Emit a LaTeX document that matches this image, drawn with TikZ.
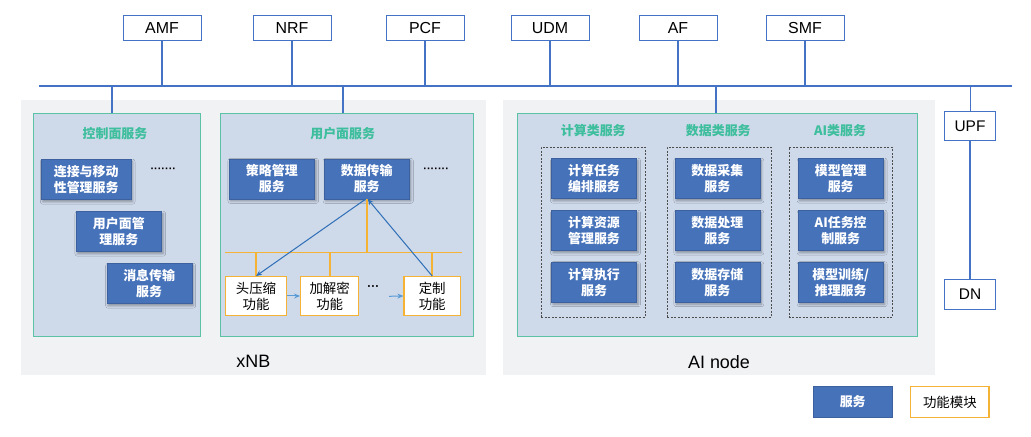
\documentclass[tikz,border=0pt]{standalone}
\usepackage{fontspec}
\setmainfont{Liberation Sans}
\newfontfamily\cjk{Noto Sans CJK SC}
\usepackage{tikz}
\usetikzlibrary{arrows.meta,positioning,shadows.blur}

\definecolor{nfblue}{HTML}{4472C4}
\definecolor{svcblue}{HTML}{4672BA}
\definecolor{sitegray}{HTML}{F1F2F4}
\definecolor{planefill}{HTML}{CED9EA}
\definecolor{planeedge}{HTML}{5CC2A6}
\definecolor{titleteal}{HTML}{3DBE9C}
\definecolor{fnorange}{HTML}{F5B335}
\definecolor{flowblue}{HTML}{5B9BD5}
\definecolor{linkblue}{HTML}{2E6FB7}

\begin{document}
\begin{tikzpicture}[x=1bp, y=-1bp,
  nf/.style={draw=nfblue, line width=1bp, fill=white, minimum width=78bp, minimum height=24.6bp, inner sep=1bp, font=\fontsize{16}{18}\selectfont},
  bus/.style={draw=nfblue, line width=1.8bp},
  site/.style={fill=sitegray, draw=none, minimum height=275bp},
  plane/.style={draw=planeedge, line width=1bp, fill=planefill, minimum height=222.7bp},
  ttl/.style={text=titleteal, font=\cjk\bfseries\fontsize{13}{15}\selectfont},
  svcbase/.style={fill=svcblue, draw=svcblue!85!black, text=white, align=center, minimum width=85bp, minimum height=40bp, inner sep=1bp, font=\cjk\bfseries\fontsize{13}{16.3}\selectfont},
  svc/.style={svcbase, blur shadow={shadow xshift=1.5bp, shadow yshift=-2bp, shadow blur radius=2.5bp, shadow opacity=35}},
  grp/.style={draw=black!70, dashed, dash pattern=on 2bp off 1.5bp, minimum width=104bp, minimum height=170bp},
  fn/.style={draw=fnorange, line width=1.3bp, fill=white, align=center, minimum height=38.6bp, inner sep=1bp, font=\cjk\fontsize{13.5}{16.3}\selectfont},
  obus/.style={draw=fnorange, line width=1.6bp},
  flow/.style={-{Stealth[length=6bp,width=5bp]}, draw=flowblue, line width=1bp},
  link/.style={-{Stealth[length=6bp,width=5bp]}, draw=linkblue, line width=1bp},
  more/.style={font=\bfseries\fontsize{11}{12}\selectfont},
  site label/.style={font=\fontsize{18}{20}\selectfont}
]
\useasboundingbox (0,0) rectangle (1031,437);

% Network functions on the service bus
\node[nf] (amf) at (162,28) {AMF};
\node[nf] (nrf) at (292,28) {NRF};
\node[nf] (pcf) at (425,28) {PCF};
\node[nf] (udm) at (550,28) {UDM};
\node[nf] (af)  at (678,28) {AF};
\node[nf] (smf) at (805,28) {SMF};

\coordinate (busL) at (39,86);
\coordinate (busR) at (1012,86);
\draw[bus] (busL) -- (busR);
\foreach \n in {amf,nrf,pcf,udm,af,smf}
  \draw[bus] (\n.south) -- (\n.south |- busL);

% Sites
\node[site, minimum width=465bp] (xnb) at (253.5,237.5) {};
\node[site, minimum width=431.7bp] (ainode) at (719.2,237.5) {};
\node[site label] (xnblbl) at (253.3,361.7) {xNB};
\node[site label] (ailbl) at (719,361.7) {AI node};

% xNB: control plane
\node[plane, minimum width=167bp] (cp) at (117,225.2) {};
\node[ttl] (cpttl) at (115,133.3) {控制面服务};
\node[svc, minimum width=89.7bp] (mm)  at (86.2,179.7)  {连接与移动\\性管理服务};
\node[svc, minimum width=85.7bp] (upm) at (118.8,231.7) {用户面管\\理服务};
\node[svc] (msg) at (149.2,283.7) {消息传输\\服务};
\node[more] (cpmore) at (163.3,170.5) {·······};

% xNB: user plane
\node[plane, minimum width=253bp] (upl) at (347,225.3) {};
\node[ttl] (upttl) at (342.7,133.3) {用户面服务};
\node[svc, minimum width=85.7bp] (pol) at (271.8,178.9) {策略管理\\服务};
\node[svc, minimum width=85.3bp] (dt)  at (366.7,178.9) {数据传输\\服务};
\node[more] (upmore) at (436.2,170.5) {·······};

% Function modules
\node[fn, minimum width=61.4bp] (hc)  at (256,296)   {头压缩\\功能};
\node[fn, minimum width=58bp]   (enc) at (329.7,296) {加解密\\功能};
\node[fn, minimum width=56.3bp] (cus) at (432.2,296) {定制\\功能};
\node[font=\bfseries\fontsize{12}{12}\selectfont] (fnmore) at (373.3,288.5) {···};
\coordinate (fnin) at (389,296.3);

\coordinate (obL) at (224.7,252.7);
\coordinate (obR) at (461.7,252.7);
\draw[obus] (obL) -- (obR);
\draw[obus] (dt.south) -- (dt.south |- obL);
\foreach \n in {hc,enc,cus}
  \draw[obus] (\n.north |- obL) -- (\n.north);

\draw[flow] (hc.east) -- (enc.west);
\draw[flow] (fnin) -- (cus.west);
\draw[link] ([xshift=-1bp]dt.south) -- (hc.north);
\draw[link] (cus.north) -- ([xshift=1bp]dt.south);

% AI node
\node[plane, minimum width=400.4bp] (ai) at (717.5,225.3) {};
\node[ttl] (compttl) at (593.3,131) {计算类服务};
\node[ttl] (datattl) at (718.3,131) {数据类服务};
\node[ttl] (aittl)   at (840,131)   {AI类服务};

\node[grp] (comp) at (593.3,232.3) {};
\node[grp] (data) at (719.3,232.3) {};
\node[grp, minimum width=103.6bp] (aig) at (840.5,232.3) {};

\node[svc] (c1) at (594,178.7)   {计算任务\\编排服务};
\node[svc] (c2) at (594,230.7)   {计算资源\\管理服务};
\node[svc] (c3) at (594,282.2)   {计算执行\\服务};
\node[svc] (d1) at (717.3,178.7) {数据采集\\服务};
\node[svc] (d2) at (717.3,230.7) {数据处理\\服务};
\node[svc] (d3) at (717.3,282.2) {数据存储\\服务};
\node[svc] (a1) at (840.7,178.7) {模型管理\\服务};
\node[svc] (a2) at (840.7,230.7) {AI任务控\\制服务};
\node[svc] (a3) at (840.7,282.2) {模型训练/\\推理服务};

% Drops from the bus
\draw[bus] ([xshift=-5bp]cp.north) -- ([xshift=-5bp]cp.north |- busL);
\draw[bus] ([xshift=-4bp]upl.north) -- ([xshift=-4bp]upl.north |- busL);
\draw[bus] ([xshift=-1.5bp]ai.north) -- ([xshift=-1.5bp]ai.north |- busL);

% UPF and DN
\node[nf, minimum width=51.7bp, minimum height=28.3bp, font=\fontsize{15.5}{17}\selectfont] (upf) at (970,125.9) {UPF};
\node[nf, minimum width=51.7bp, minimum height=30bp, font=\fontsize{15.5}{17}\selectfont] (dn) at (970,294.3) {DN};
\draw[draw=nfblue, line width=1bp] (upf.north) -- (upf.north |- busL);
\draw[bus] (upf.south) -- (dn.north);

% Legend
\node[svcbase, minimum width=78.7bp, minimum height=30.6bp, font=\cjk\bfseries\fontsize{13}{15}\selectfont] (lgsvc) at (852.7,402) {服务};
\node[fn, minimum width=78.3bp, minimum height=30.6bp] (lgfn) at (949.9,402) {功能模块};
\end{tikzpicture}
\end{document}
